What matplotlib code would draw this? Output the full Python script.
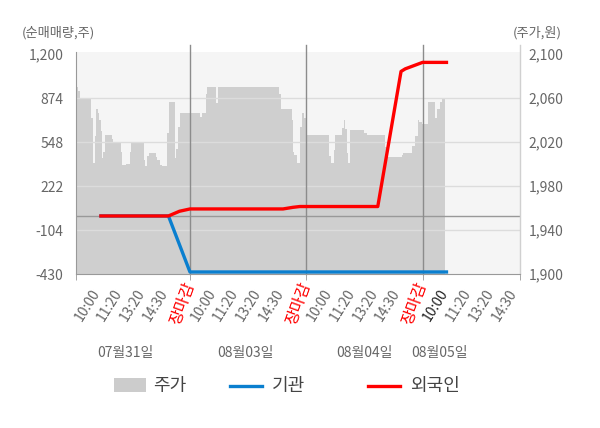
import matplotlib
matplotlib.use('Agg')
import matplotlib.pyplot as plt
from matplotlib.patches import Rectangle
from matplotlib.lines import Line2D
from matplotlib.transforms import ScaledTranslation

plt.rcParams['font.family'] = ['Noto Sans CJK KR', 'DejaVu Sans']

# ---------------- data ----------------
# time axis: trading-day index (0..1 = first day, 1..2 = second day, ...)
price_t = [0.018, 0.026, 0.037, 0.055, 0.152, 0.162, 0.166, 0.183, 0.195, 0.205,
           0.218, 0.235, 0.244, 0.252, 0.267, 0.327, 0.338, 0.404, 0.413, 0.447,
           0.484, 0.495, 0.605, 0.616, 0.633, 0.648, 0.705, 0.719, 0.742, 0.757,
           0.805, 0.817, 0.868, 0.882, 0.897, 0.914, 1.086, 1.101, 1.138, 1.149,
           1.221, 1.238, 1.765, 1.780, 1.877, 1.885, 1.894, 1.917, 1.945, 1.960,
           1.980, 1.997, 2.008, 2.195, 2.209, 2.238, 2.246, 2.309, 2.324, 2.332,
           2.347, 2.361, 2.375, 2.498, 2.519, 2.676, 2.699, 2.820, 2.833, 2.911,
           2.934, 2.957, 2.971, 2.991, 3.048, 3.106, 3.125, 3.149, 3.168, 3.192]
price_v = [2060, 2070, 2066, 2060, 2042, 2030, 2001, 2025, 2050, 2046,
           2040, 2030, 2005, 2011, 2026, 2023, 2020, 2011, 1999, 2000,
           2011, 2020, 2004, 1998, 2007, 2010, 2006, 2004, 1999, 1998,
           2028, 2056, 2005, 2014, 2034, 2046, 2043, 2046, 2064, 2070,
           2055, 2070, 2064, 2050, 2040, 2011, 2008, 2001, 2034, 2046,
           2042, 2030, 2026, 2007, 2001, 2013, 2026, 2033, 2040, 2032,
           2010, 2001, 2031, 2028, 2026, 2015, 2006, 2008, 2010, 2016,
           2025, 2040, 2038, 2036, 2056, 2042, 2050, 2056, 2059, 2059]

inst_t = [0.22, 0.815, 1.0, 3.22]
inst_v = [0, 0, -415, -415]

foreign_t = [0.22, 0.815, 0.91, 1.0, 1.80, 1.885, 1.945, 2.615, 2.815, 2.851, 3.0, 3.22]
foreign_v = [0, 0, 35, 52, 52, 64, 70, 70, 1071, 1090, 1138, 1138]

session_labels = ['10:00', '11:20', '13:20', '14:30']
session_pos = [0.195, 0.39, 0.585, 0.78]
close_label = '장마감'
days = ['07월31일', '08월03일', '08월04일', '08월05일']

flow_ticks = [-430, -104, 222, 548, 874, 1200]
flow_tick_labels = ['-430', '-104', '222', '548', '874', '1,200']
price_ticks = [1900, 1940, 1980, 2020, 2060, 2100]
price_tick_labels = ['1,900', '1,940', '1,980', '2,020', '2,060', '2,100']

# ---------------- figure ----------------
W, H = 600, 428
fig = plt.figure(figsize=(W / 100, H / 100), dpi=100)
ax = fig.add_axes([76 / W, 1 - 274 / H, 444 / W, 222 / H])
ax.set_facecolor('#f5f5f5')

XL = (0.02, 3.838)
ax.fill_between(price_t, price_v, 1900, step='post', color='#cfcfcf', lw=0, zorder=1)
ax.set_xlim(*XL)
ax.set_ylim(1900, 2101.8)
for s in ax.spines.values():
    s.set_visible(False)

ax2 = ax.twinx()
ax2.set_ylim(-430, 1215)
ax2.set_xlim(*XL)
for s in ax2.spines.values():
    s.set_visible(False)
ax2.spines['left'].set_visible(True)
ax2.spines['left'].set_color('#999999')
ax2.spines['bottom'].set_visible(True)
ax2.spines['bottom'].set_color('#999999')

# grid lines
for v in flow_ticks[1:-1]:
    ax2.axhline(v, color='#dcdcdc', lw=1, zorder=1)
ax2.axhline(0, color='#999999', lw=1, zorder=1.5)
for d in [1, 2, 3]:
    ax2.axvline(d, ymin=0, ymax=1 + 7 / 222, color='#8c8c8c', lw=1, clip_on=False, zorder=1.5)
ax2.axvline(XL[1], ymin=0, ymax=1 + 7 / 222, color='#d0d0d0', lw=1, clip_on=False, zorder=1.5)

ax2.plot(inst_t, inst_v, color='#0a7fcf', lw=2.4, zorder=3, solid_capstyle='butt')
ax2.plot(foreign_t, foreign_v, color='#ff0000', lw=2.4, zorder=4, solid_capstyle='butt')

# y axes
ax2.yaxis.tick_left()
ax2.set_yticks(flow_ticks)
ax2.set_yticklabels(flow_tick_labels)
ax2.tick_params(axis='y', length=0, pad=9, labelsize=10, labelcolor='#666666')
ax.yaxis.tick_right()
ax.set_yticks(price_ticks)
ax.set_yticklabels(price_tick_labels)
ax.tick_params(axis='y', length=0, pad=6, labelsize=10, labelcolor='#666666')

# x axis: session time labels
xt, xl, xc = [], [], []
for i, day in enumerate(days):
    for j, (lab, p) in enumerate(zip(session_labels, session_pos)):
        xt.append(i + p)
        xl.append(lab)
        xc.append('#222222' if (i == len(days) - 1 and j == 0) else '#666666')
ax.set_xticks(xt)
ax.set_xticklabels(xl)
ax.tick_params(axis='x', which='major', length=0, pad=12, labelsize=10)
for lbl, c in zip(ax.get_xticklabels(), xc):
    lbl.set_color(c)
    lbl.set_rotation(58)
    lbl.set_ha('right')
    lbl.set_va('center')
    lbl.set_rotation_mode('anchor')
ax.set_xticks([XL[0], 1, 2, 3, XL[1]], minor=True)
ax.tick_params(axis='x', which='minor', length=4, color='#999999')

# market-close labels at day boundaries
close_tr = ax.get_xaxis_transform() + ScaledTranslation(0, -9 / 100, fig.dpi_scale_trans)
for d in range(1, len(days)):
    ax.text(d, 0, close_label, transform=close_tr, rotation=70, ha='right', va='center',
            rotation_mode='anchor', fontsize=11.5, color='#ff0000')

date_x = [0.442, 1.473, 2.504, 3.149]
for x, d in zip(date_x, days):
    ax.text(x, -79 / 222, d, transform=ax.get_xaxis_transform(), ha='center', va='center',
            fontsize=10, color='#666666')

# axis titles
fig.text(22 / W, 1 - 33 / H, '(순매매량,주)', ha='left', va='center', fontsize=9.5, color='#666666')
fig.text(562 / W, 1 - 33 / H, '(주가,원)', ha='right', va='center', fontsize=9.5, color='#666666')

# legend
ly = 1 - 386 / H
fig.add_artist(Rectangle((114 / W, 1 - 392 / H), 32 / W, 14 / H, transform=fig.transFigure,
                         facecolor='#cccccc', edgecolor='none'))
fig.text(153 / W, ly, '주가', ha='left', va='center', fontsize=13, color='#444444')
fig.add_artist(Line2D([230 / W, 262 / W], [ly, ly], transform=fig.transFigure, color='#0a7fcf', lw=2.4))
fig.text(272 / W, ly, '기관', ha='left', va='center', fontsize=13, color='#444444')
fig.add_artist(Line2D([368 / W, 400 / W], [ly, ly], transform=fig.transFigure, color='#ff0000', lw=2.4))
fig.text(410 / W, ly, '외국인', ha='left', va='center', fontsize=13, color='#444444')

fig.savefig('out.png', dpi=100)
